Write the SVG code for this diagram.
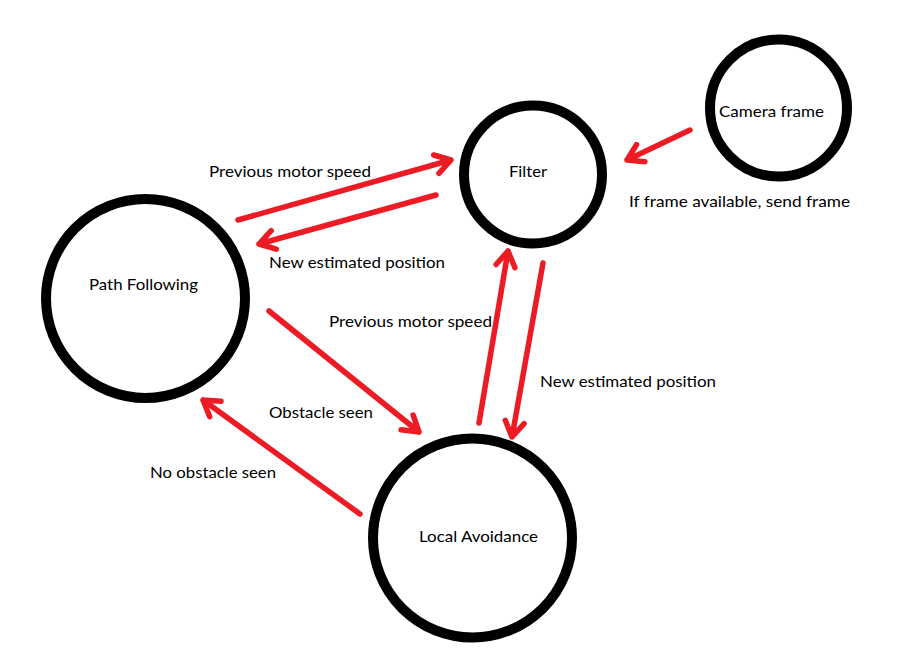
<svg xmlns="http://www.w3.org/2000/svg" width="906" height="658" viewBox="0 0 906 658">
<style>
.node{fill:none;stroke:#000;stroke-width:10}
.lbl{font-family:Lato,"Liberation Sans",sans-serif;font-size:15px;fill:#000}
.edge{fill:none;stroke:#ED1C24;stroke-width:5.5;stroke-linecap:round;stroke-linejoin:round}
</style>
<rect width="906" height="658" fill="#fff"/>
<g id="node-path-following">
<circle class="node" cx="145.5" cy="298.5" r="99.5"/>
<text class="lbl" x="89" y="290" textLength="109" lengthAdjust="spacingAndGlyphs">Path Following</text>
</g>
<g id="node-filter">
<circle class="node" cx="533" cy="174.5" r="69"/>
<text class="lbl" x="509" y="177" textLength="38" lengthAdjust="spacingAndGlyphs">Filter</text>
</g>
<g id="node-camera-frame">
<circle class="node" cx="778.5" cy="108" r="68.5"/>
<text class="lbl" x="719" y="117" textLength="105" lengthAdjust="spacingAndGlyphs">Camera frame</text>
</g>
<g id="node-local-avoidance">
<circle class="node" cx="472.5" cy="538" r="99.5"/>
<text class="lbl" x="419" y="542" textLength="119" lengthAdjust="spacingAndGlyphs">Local Avoidance</text>
</g>
<g id="connectors">
<g id="edge-pf-filter">
<path class="edge" d="M238,220 L451,160 M433.7,155 L451,160 L438.9,173.3"/>
<text class="lbl" x="209" y="177" textLength="162" lengthAdjust="spacingAndGlyphs">Previous motor speed</text>
</g>
<g id="edge-filter-pf">
<path class="edge" d="M436,195 L259,244 M271.2,230.7 L259,244 L276.3,249.1"/>
<text class="lbl" x="269" y="268" textLength="176" lengthAdjust="spacingAndGlyphs">New estimated position</text>
</g>
<g id="edge-camera-filter">
<path class="edge" d="M690,130 L627,160 M636.5,144.7 L627,160 L644.9,161.8"/>
<text class="lbl" x="629" y="207" textLength="221" lengthAdjust="spacingAndGlyphs">If frame available, send frame</text>
</g>
<g id="edge-la-filter">
<path class="edge" d="M479,423 L508,251 M496.1,264.5 L508,251 L514.9,267.6"/>
<text class="lbl" x="329" y="327" textLength="163" lengthAdjust="spacingAndGlyphs">Previous motor speed</text>
</g>
<g id="edge-filter-la">
<path class="edge" d="M543,263 L512,437 M505.3,420.3 L512,437 L524.1,423.6"/>
<text class="lbl" x="540" y="387" textLength="176" lengthAdjust="spacingAndGlyphs">New estimated position</text>
</g>
<g id="edge-pf-la">
<path class="edge" d="M269,311 L419,432 M413.1,415 L419,432 L401.1,429.8"/>
<text class="lbl" x="269" y="418" textLength="104" lengthAdjust="spacingAndGlyphs">Obstacle seen</text>
</g>
<g id="edge-la-pf">
<path class="edge" d="M360,514 L203,400 M221,401.2 L203,400 L209.7,416.7"/>
<text class="lbl" x="150" y="478" textLength="126" lengthAdjust="spacingAndGlyphs">No obstacle seen</text>
</g>
</g>
</svg>
